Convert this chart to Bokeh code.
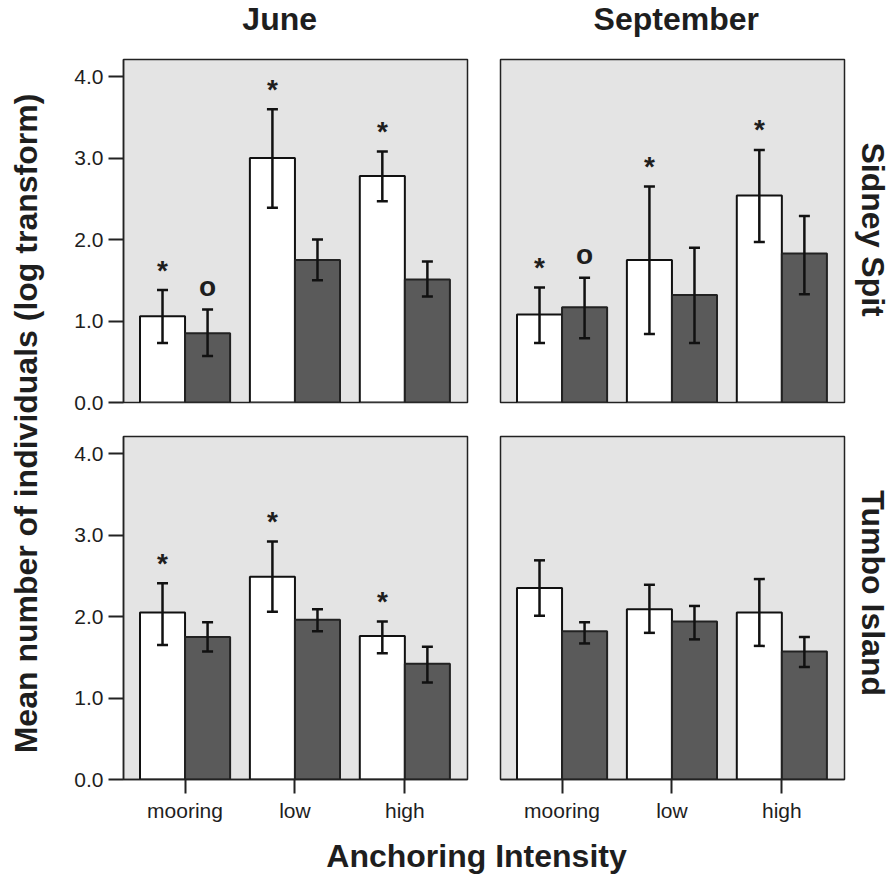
import numpy as np
from bokeh.plotting import figure
from bokeh.models import (ColumnDataSource, Range1d, FixedTicker, Whisker, TeeHead,
                          Title, Label, NumeralTickFormatter)
from bokeh.layouts import row, column
from bokeh.core.properties import value
from bokeh.embed import file_html
from bokeh.resources import INLINE

# ---------------- data ----------------
categories = ["mooring", "low", "high"]
months = ["June", "September"]
sites = ["Sidney Spit", "Tumbo Island"]
y_ticks = [0, 1, 2, 3, 4]
y_top = 4.21

# June, Sidney Spit
js_open = [1.06, 3.00, 2.78]
js_open_lo = [0.73, 2.39, 2.47]
js_open_hi = [1.38, 3.60, 3.08]
js_fill = [0.85, 1.75, 1.51]
js_fill_lo = [0.57, 1.50, 1.30]
js_fill_hi = [1.14, 2.00, 1.73]
js_open_sig = ["*", "*", "*"]
js_fill_sig = ["o", "", ""]

# September, Sidney Spit
ss_open = [1.08, 1.75, 2.54]
ss_open_lo = [0.73, 0.84, 1.97]
ss_open_hi = [1.41, 2.65, 3.10]
ss_fill = [1.17, 1.32, 1.83]
ss_fill_lo = [0.79, 0.73, 1.33]
ss_fill_hi = [1.53, 1.90, 2.29]
ss_open_sig = ["*", "*", "*"]
ss_fill_sig = ["o", "", ""]

# June, Tumbo Island
jt_open = [2.05, 2.49, 1.76]
jt_open_lo = [1.65, 2.06, 1.55]
jt_open_hi = [2.41, 2.92, 1.94]
jt_fill = [1.75, 1.96, 1.42]
jt_fill_lo = [1.57, 1.82, 1.19]
jt_fill_hi = [1.93, 2.09, 1.63]
jt_open_sig = ["*", "*", "*"]
jt_fill_sig = ["", "", ""]

# September, Tumbo Island
st_open = [2.35, 2.09, 2.05]
st_open_lo = [2.01, 1.80, 1.64]
st_open_hi = [2.69, 2.39, 2.46]
st_fill = [1.82, 1.94, 1.57]
st_fill_lo = [1.67, 1.72, 1.38]
st_fill_hi = [1.93, 2.13, 1.75]
st_open_sig = ["", "", ""]
st_fill_sig = ["", "", ""]

# ---------------- style ----------------
FONT = "Liberation Sans"
TXT = "#1e1e1e"
BG = "#e4e4e4"
DARK = "#5a5a5a"
BAR_W = 0.41
X_PAD_L, X_PAD_R = 0.56, 0.57
MARK_OFFSET = {"*": -20, "o": -23}


def blank(width, height, x_range=None, y_range=None, **borders):
    kw = {}
    if x_range is not None:
        kw["x_range"] = x_range
    if y_range is not None:
        kw["y_range"] = y_range
    f = figure(width=width, height=height, output_backend="svg", toolbar_location=None,
               title=None, x_axis_location=None, y_axis_location=None, **kw, **borders)
    f.outline_line_color = None
    f.grid.visible = False
    return f


def panel(open_v, open_lo, open_hi, fill_v, fill_lo, fill_hi, open_sig, fill_sig,
          width, height, mb_left, mb_right, mb_top, mb_bottom, show_y, show_x):
    pos = np.arange(len(categories))
    p = figure(width=width, height=height, output_backend="svg", toolbar_location=None,
               title=None, x_range=Range1d(-X_PAD_L, len(categories) - 1 + X_PAD_R),
               y_range=Range1d(0, y_top),
               min_border_left=mb_left, min_border_right=mb_right,
               min_border_top=mb_top, min_border_bottom=mb_bottom,
               x_axis_location="below" if show_x else None,
               y_axis_location="left" if show_y else None)
    p.background_fill_color = BG
    p.border_fill_color = "white"
    p.outline_line_color = "#222222"
    p.outline_line_width = 1.5
    p.grid.visible = False

    src_open = ColumnDataSource(dict(x=pos - BAR_W / 2, top=open_v, lo=open_lo, hi=open_hi))
    src_fill = ColumnDataSource(dict(x=pos + BAR_W / 2, top=fill_v, lo=fill_lo, hi=fill_hi))

    p.vbar(x="x", top="top", bottom=0, width=BAR_W, source=src_open,
           fill_color="white", line_color="#111111", line_width=2)
    p.vbar(x="x", top="top", bottom=0, width=BAR_W, source=src_fill,
           fill_color=DARK, line_color="#222222", line_width=2)

    for src, sig in ((src_open, open_sig), (src_fill, fill_sig)):
        w = Whisker(source=src, base="x", upper="hi", lower="lo", level="annotation",
                    line_color="#111111", line_width=2.5,
                    upper_head=TeeHead(size=11, line_width=2.5, line_color="#111111"),
                    lower_head=TeeHead(size=11, line_width=2.5, line_color="#111111"))
        p.add_layout(w)
        for sym, off in MARK_OFFSET.items():
            txt = [s if s == sym else "" for s in sig]
            if not any(txt):
                continue
            msrc = ColumnDataSource(dict(x=src.data["x"], y=src.data["hi"], t=txt))
            p.text(x="x", y="y", text="t", source=msrc, y_offset=off,
                   text_align="center", text_baseline="middle",
                   text_font=value(FONT), text_font_style="bold",
                   text_font_size="28px", text_color=TXT)

    if show_y:
        ax = p.yaxis[0]
        ax.ticker = FixedTicker(ticks=y_ticks)
        ax.formatter = NumeralTickFormatter(format="0.0")
        ax.axis_line_color = "#222222"
        ax.axis_line_width = 1.5
        ax.major_tick_line_color = "#222222"
        ax.major_tick_line_width = 2
        ax.major_tick_out = 15
        ax.major_tick_in = 0
        ax.minor_tick_line_color = None
        ax.major_label_text_font = FONT
        ax.major_label_text_font_size = "21px"
        ax.major_label_text_color = TXT
        ax.major_label_standoff = 5
    if show_x:
        ax = p.xaxis[0]
        ax.ticker = FixedTicker(ticks=list(pos))
        ax.major_label_overrides = {int(i): c for i, c in zip(pos, categories)}
        ax.axis_line_color = "#222222"
        ax.axis_line_width = 1.5
        ax.major_tick_line_color = "#222222"
        ax.major_tick_line_width = 2
        ax.major_tick_out = 14
        ax.major_tick_in = 0
        ax.minor_tick_line_color = None
        ax.major_label_text_font = FONT
        ax.major_label_text_font_size = "21px"
        ax.major_label_text_color = TXT
        ax.major_label_standoff = 5
    return p


def bold_label(text, x, y, angle=0.0):
    return Label(x=x, y=y, x_units="data", y_units="data", text=text, angle=angle,
                 text_align="center", text_baseline="middle",
                 text_font=FONT, text_font_style="bold", text_font_size="32px",
                 text_color=TXT)


# page-pixel geometry of the helper strips (left, right, top, bottom)
HDR = (60, 889, 0, 40)
RL_TOP = (852, 889, 40, 419)
RL_BOT = (852, 889, 419, 824)

tl = panel(js_open, js_open_lo, js_open_hi, js_fill, js_fill_lo, js_fill_hi, js_open_sig, js_fill_sig,
           423, 379, 63, 16, 19, 17, True, False)
tr = panel(ss_open, ss_open_lo, ss_open_hi, ss_fill, ss_fill_lo, ss_fill_hi, ss_open_sig, ss_fill_sig,
           369, 379, 17, 8, 19, 17, False, False)
bl = panel(jt_open, jt_open_lo, jt_open_hi, jt_fill, jt_fill_lo, jt_fill_hi, jt_open_sig, jt_fill_sig,
           423, 405, 63, 16, 17, 45, True, True)
br = panel(st_open, st_open_lo, st_open_hi, st_fill, st_fill_lo, st_fill_hi, st_open_sig, st_fill_sig,
           369, 405, 17, 8, 17, 45, False, True)

# column headings (June / September): strip measured in page pixels, y downwards
hdr = blank(HDR[1] - HDR[0], HDR[3] - HDR[2],
            x_range=Range1d(HDR[0], HDR[1]), y_range=Range1d(HDR[3], HDR[2]),
            min_border_left=0, min_border_right=0, min_border_top=0, min_border_bottom=0)
hdr.add_layout(bold_label(months[0], 277, 18))
hdr.add_layout(bold_label(months[1], 675, 18))

# row headings (Sidney Spit / Tumbo Island)
rl_top = blank(RL_TOP[1] - RL_TOP[0], RL_TOP[3] - RL_TOP[2],
               x_range=Range1d(RL_TOP[0], RL_TOP[1]), y_range=Range1d(RL_TOP[3], RL_TOP[2]),
               min_border_left=0, min_border_right=0, min_border_top=0, min_border_bottom=0)
rl_top.add_layout(bold_label(sites[0], 872, 228, angle=-np.pi / 2))
rl_bot = blank(RL_BOT[1] - RL_BOT[0], RL_BOT[3] - RL_BOT[2],
               x_range=Range1d(RL_BOT[0], RL_BOT[1]), y_range=Range1d(RL_BOT[3], RL_BOT[2]),
               min_border_left=0, min_border_right=0, min_border_top=0, min_border_bottom=0)
rl_bot.add_layout(bold_label(sites[1], 872, 604, angle=-np.pi / 2))

# overall y label
ylab = blank(60, 874, min_border_left=44, min_border_right=0, min_border_top=0, min_border_bottom=28)
ylab.add_layout(Title(text="Mean number of individuals (log transform)", align="center",
                      standoff=2, text_font=FONT, text_font_style="bold",
                      text_font_size="32px", text_color=TXT), "left")

# overall x label
xlab = blank(829, 50, min_border_left=3, min_border_right=0, min_border_top=49, min_border_bottom=0)
xlab.add_layout(Title(text="Anchoring Intensity", align="center", standoff=0,
                      text_font=FONT, text_font_style="bold",
                      text_font_size="32px", text_color=TXT), "above")

layout = row(ylab, column(hdr, row(tl, tr, rl_top), row(bl, br, rl_bot), xlab))

open("out.html", "w").write(file_html(layout, INLINE))
